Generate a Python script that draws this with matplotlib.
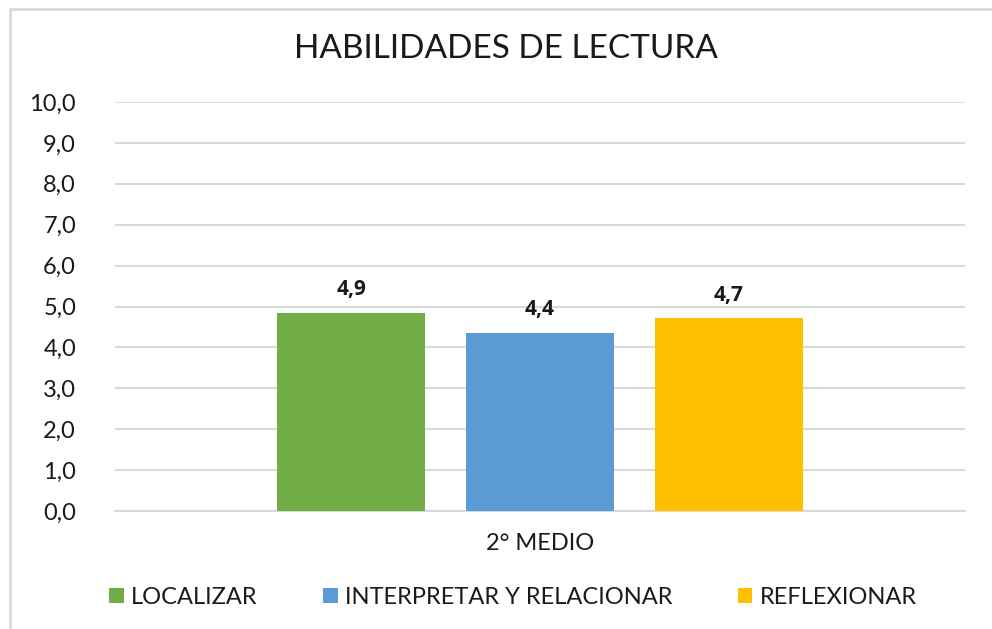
import matplotlib
matplotlib.use("Agg")
import matplotlib.pyplot as plt
from matplotlib.patches import Rectangle
import numpy as np

plt.rcParams['font.family'] = ['Lato', 'DejaVu Sans']

categories = ["2° MEDIO"]
series_names = ["LOCALIZAR", "INTERPRETAR Y RELACIONAR", "REFLEXIONAR"]
series_values = [4.85, 4.36, 4.72]
value_labels = ["4,9", "4,4", "4,7"]
colors = ["#70AD47", "#5B9BD5", "#FFC000"]
yticks = [0, 1, 2, 3, 4, 5, 6, 7, 8, 9, 10]
ytick_labels = ["0,0", "1,0", "2,0", "3,0", "4,0", "5,0", "6,0", "7,0", "8,0", "9,0", "10,0"]

TXT = '#1a1a1a'
fig = plt.figure(figsize=(9.92, 6.29), dpi=100)
W, H = 992, 629
ax = fig.add_axes([115 / W, 1 - 511 / H, 850 / W, 409 / H])

x = np.arange(len(categories))
width = 0.174
offsets = [-0.222, 0.0, 0.222]
for name, val, lab, col, off in zip(series_names, series_values, value_labels, colors, offsets):
    ax.bar(x + off, [val], width=width, color=col, label=name, zorder=3)
    ax.text(x[0] + off, val + 0.3, lab, ha='center', va='bottom',
            fontsize=15, fontweight='bold', family=['Open Sans', 'DejaVu Sans'],
            color=TXT, zorder=4)

ax.set_xlim(-0.5, 0.5)
ax.set_ylim(0, 10)
ax.set_yticks(yticks)
ax.set_yticklabels(ytick_labels, fontsize=17, color=TXT)
ax.set_xticks(x)
ax.set_xticklabels(categories, fontsize=17, color=TXT)
ax.tick_params(axis='both', length=0)
ax.tick_params(axis='y', pad=28)
ax.tick_params(axis='x', pad=16)
ax.yaxis.grid(True, color='#D9D9D9', linewidth=1.5, zorder=0)
ax.set_axisbelow(True)
for s in ['top', 'right', 'left']:
    ax.spines[s].set_visible(False)
ax.spines['bottom'].set_color('#D9D9D9')
ax.spines['bottom'].set_linewidth(1.5)

fig.text(506 / W, 1 - 49 / H, "HABILIDADES DE LECTURA", ha='center', va='center',
         fontsize=24, color=TXT)

leg = fig.legend(loc='center', bbox_to_anchor=(513 / W, 1 - 597 / H), ncol=3,
                 frameon=False, prop={'size': 17},
                 handlelength=0.6, handleheight=0.6,
                 handletextpad=0.3, columnspacing=2.8)
for t in leg.get_texts():
    t.set_color(TXT)

fig.patches.append(Rectangle((10 / W, -0.1), 1.2, 1 - 9 / H + 0.1, transform=fig.transFigure,
                             fill=False, edgecolor='#D9D9D9', linewidth=2))

fig.savefig("out.png", dpi=100)
